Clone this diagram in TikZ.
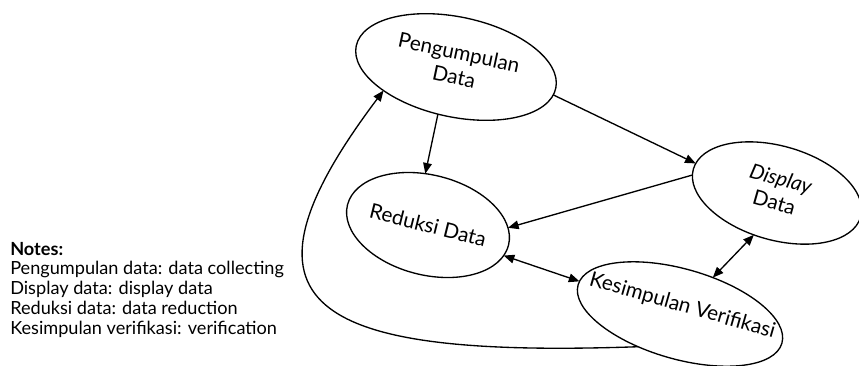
\documentclass[tikz,border=0pt]{standalone}
\usepackage{fontspec}
\setmainfont{Lato}
\usetikzlibrary{arrows.meta,shapes.geometric}
\begin{document}
\begin{tikzpicture}[x=0.75pt,y=0.75pt,
  stage/.style={ellipse,draw,line width=1pt,inner sep=0pt,outer sep=0pt,
    font=\fontsize{15.5}{18.5}\selectfont},
  conn/.style={line width=1pt,-{Triangle[length=8pt,width=6.5pt]}},
  biconn/.style={line width=1pt,{Triangle[length=8pt,width=6.5pt]}-{Triangle[length=8pt,width=6.5pt]}}]
\useasboundingbox (0,0) rectangle (859,-365);

\node[stage,minimum width=153pt,minimum height=75pt,rotate=-12] (peng) at (456,-67)
  {\makebox[0pt]{\begin{tabular}{@{}c@{}}Pengumpulan\\Data\end{tabular}}};
\node[stage,minimum width=124.5pt,minimum height=75pt,rotate=-14] (red) at (428,-225)
  {\makebox[0pt]{Reduksi Data}};
\node[stage,minimum width=130.5pt,minimum height=70.5pt,rotate=-16] (disp) at (777,-193)
  {\makebox[0pt]{\begin{tabular}{@{}c@{}}\textit{Display}\\Data\end{tabular}}};
\node[stage,minimum width=159pt,minimum height=67.5pt,rotate=-16] (kes) at (680,-314)
  {\makebox[0pt]{\smash{\raisebox{1.75pt}{Kesimpulan Verifikasi}}}};

\node[anchor=base west,align=left,inner sep=0pt,font=\fontsize{13.6}{14.8}\selectfont] (notes) at (10,-334)
  {\textbf{Notes:}\\Pengumpulan data: data collecting\\Display data: display data\\Reduksi data: data reduction\\Kesimpulan verifikasi: verification};

\draw[conn] (peng.261) -- (red.107);
\draw[conn] (peng.-4) -- (disp.176);
\draw[conn] (disp.184) -- (red.12);
\draw[biconn] (red.-8) -- (kes.178);
\draw[biconn] (disp.257) -- (kes.64);
\draw[conn] (kes.234) .. controls +(182:330) and +(233:270) .. (peng.210);
\end{tikzpicture}
\end{document}
